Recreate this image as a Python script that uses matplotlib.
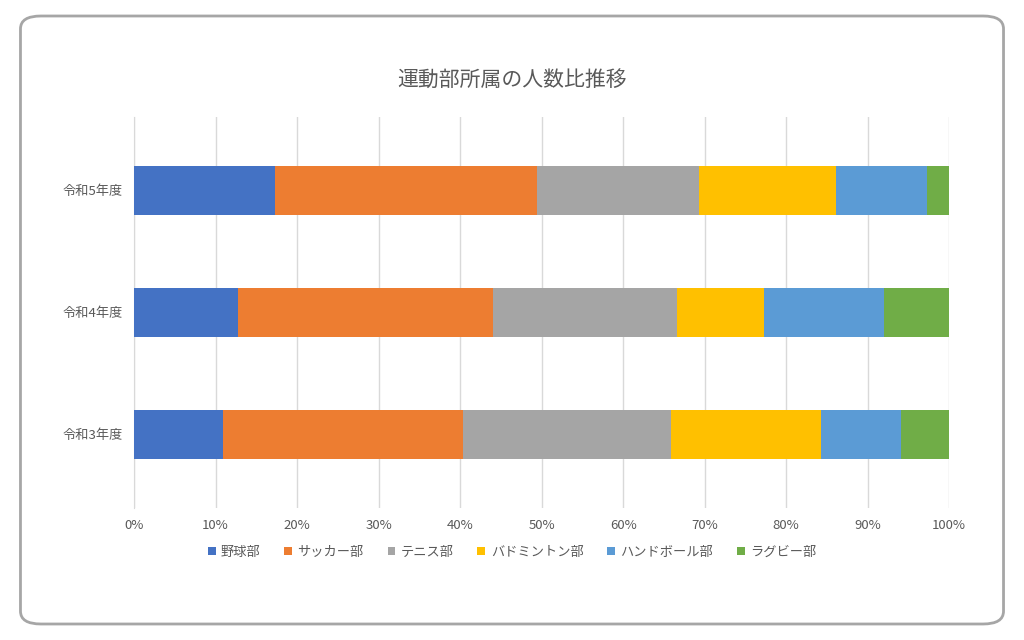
import matplotlib.pyplot as plt
import matplotlib
from matplotlib.patches import FancyBboxPatch
from matplotlib.ticker import PercentFormatter
import numpy as np

matplotlib.rcParams["font.family"] = "Noto Sans CJK JP"

years = ["令和3年度", "令和4年度", "令和5年度"]
clubs = ["野球部", "サッカー部", "テニス部", "バドミントン部", "ハンドボール部", "ラグビー部"]
colors = ["#4472C4", "#ED7D31", "#A5A5A5", "#FFC000", "#5B9BD5", "#70AD47"]
# share (%) per club, rows follow years
shares = {
    "野球部":       [10.9, 12.8, 17.3],
    "サッカー部":   [29.5, 31.2, 32.1],
    "テニス部":     [25.5, 22.6, 19.9],
    "バドミントン部": [18.4, 10.7, 16.8],
    "ハンドボール部": [9.8, 14.7, 11.2],
    "ラグビー部":   [5.9, 8.0, 2.7],
}

fig = plt.figure(figsize=(10.24, 6.4), dpi=100)
fig.patches.append(FancyBboxPatch((0.02, 0.025), 0.96, 0.95,
                                  boxstyle="round,pad=0,rounding_size=0.02",
                                  transform=fig.transFigure, facecolor="white",
                                  edgecolor="#A6A6A6", linewidth=2, zorder=-10))
ax = fig.add_axes([0.131, 0.207, 0.796, 0.61])
ax.set_facecolor("none")

y = np.arange(len(years))
left = np.zeros(len(years))
for club, c in zip(clubs, colors):
    vals = np.array(shares[club])
    ax.barh(y, vals, left=left, height=0.4, color=c, label=club, zorder=3)
    left += vals

ax.set_xlim(0, 100)
ax.set_ylim(-0.6, 2.6)
ax.set_xticks(np.arange(0, 101, 10))
ax.xaxis.set_major_formatter(PercentFormatter(decimals=0))
ax.set_yticks(y)
ax.set_yticklabels(years)
ax.grid(axis="x", color="#D9D9D9", linewidth=1, zorder=0)
for s in ["top", "right", "bottom"]:
    ax.spines[s].set_visible(False)
ax.spines["left"].set_color("#D9D9D9")
ax.tick_params(length=0, labelsize=9.5, colors="#595959", pad=8)

fig.text(0.5, 0.875, "運動部所属の人数比推移", ha="center", va="center",
         fontsize=15, color="#595959")
fig.legend(loc="center", bbox_to_anchor=(0.5, 0.137), ncol=6, frameon=False,
           fontsize=9.5, handlelength=0.6, handleheight=0.6, columnspacing=1.8,
           handletextpad=0.4, labelcolor="#595959")

fig.savefig("out.png", dpi=100)
